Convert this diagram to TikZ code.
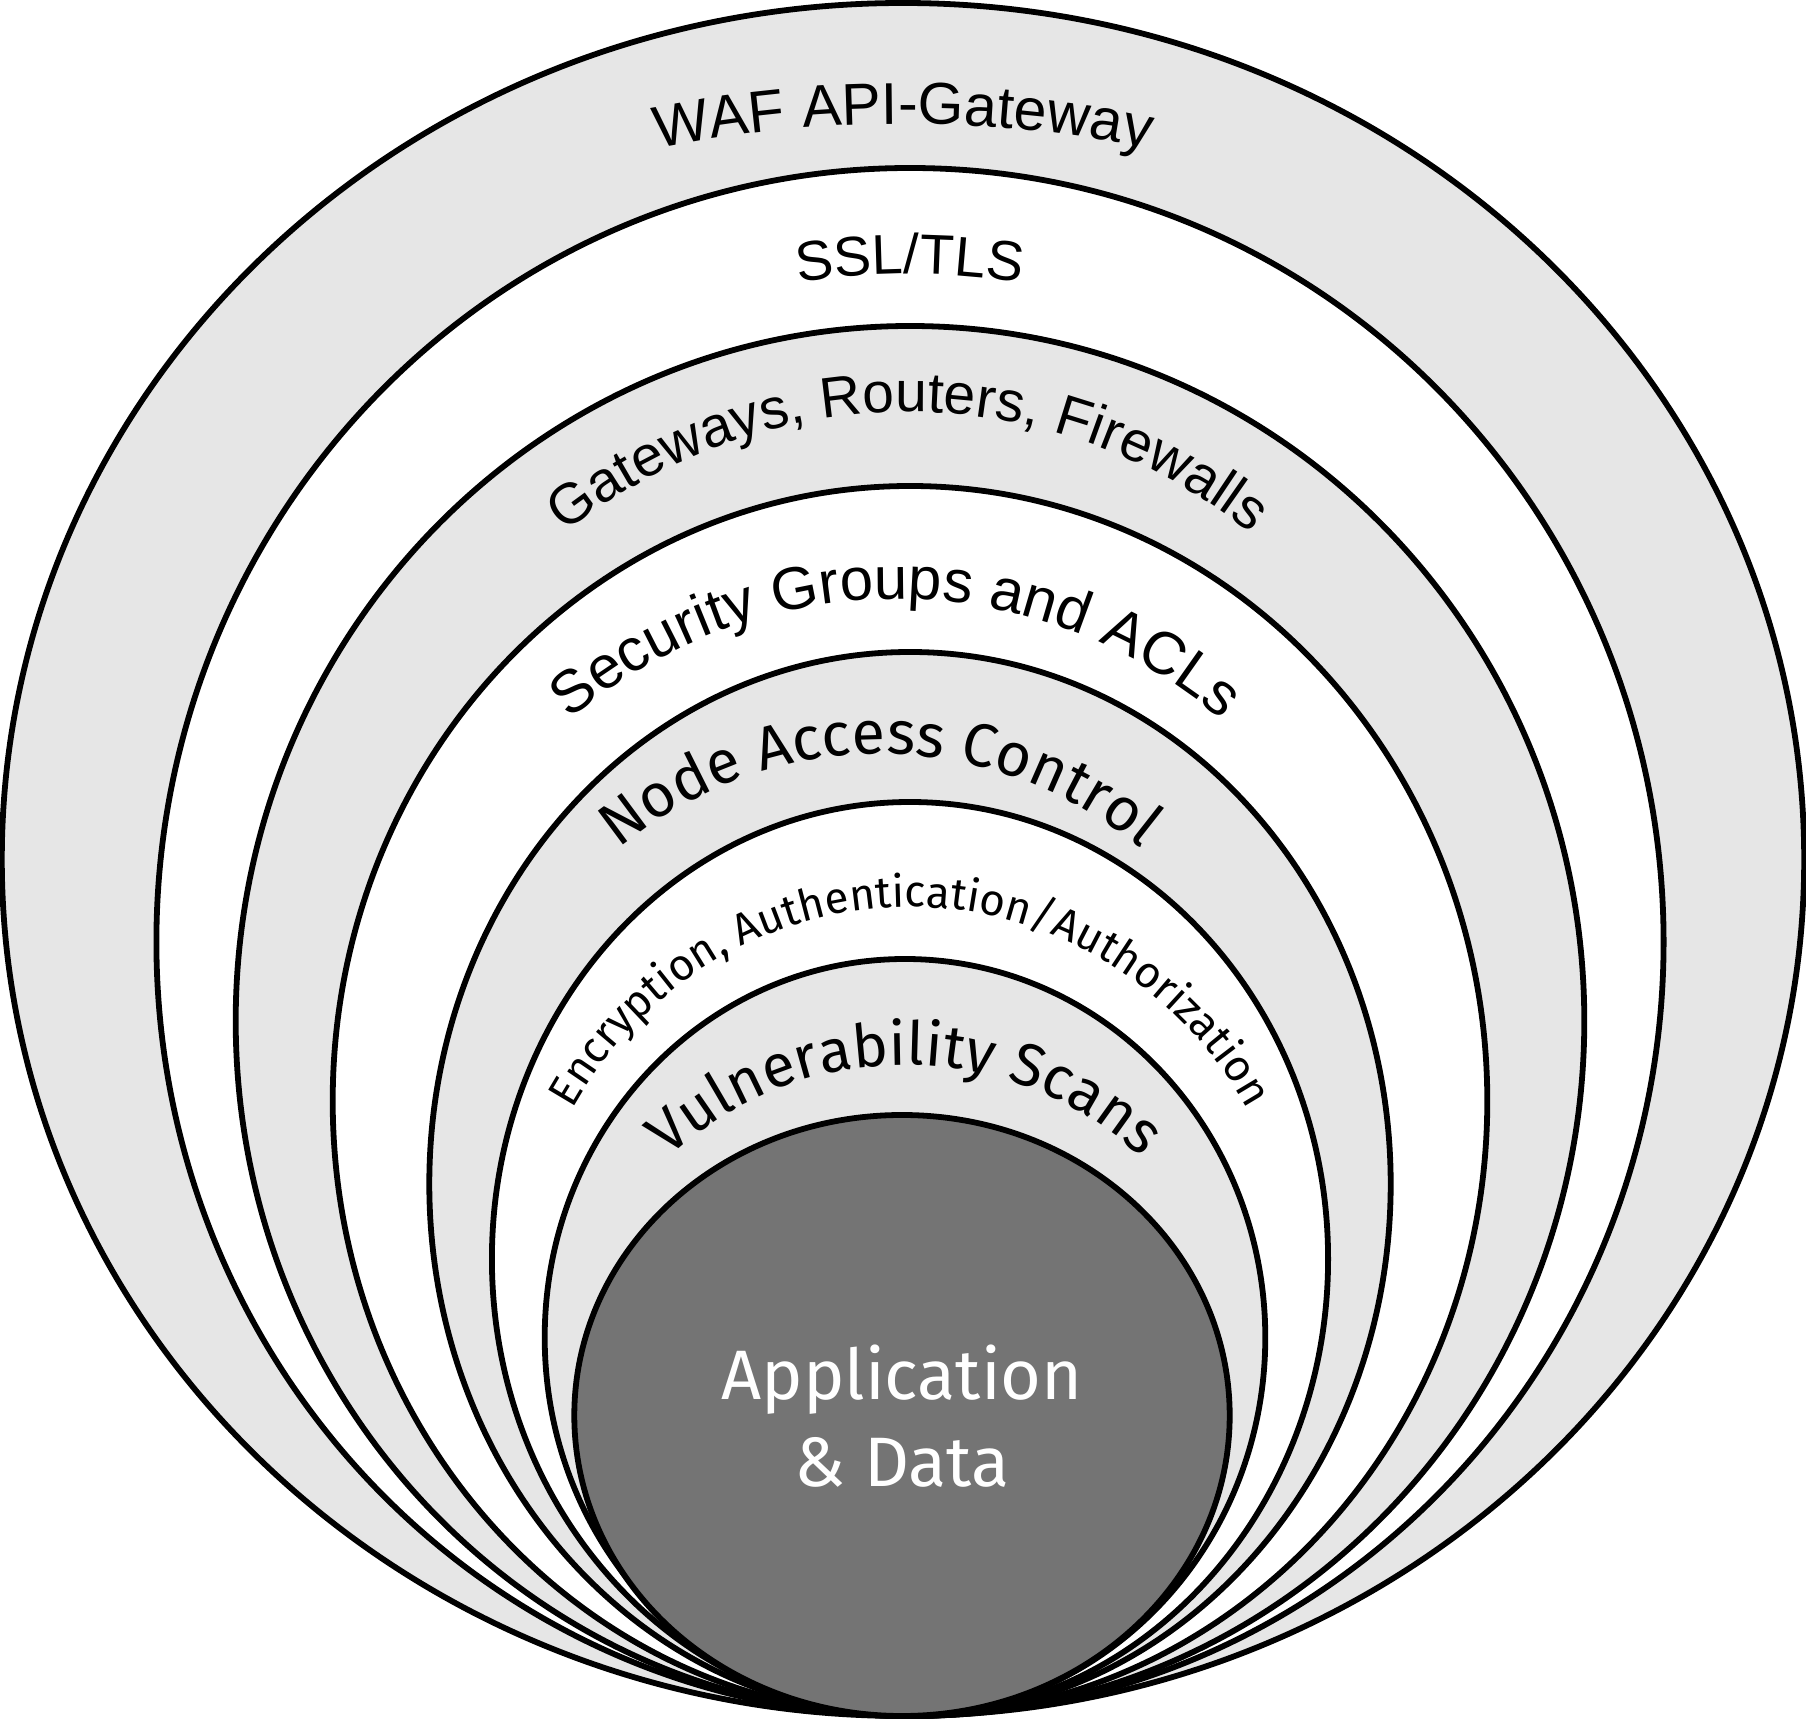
\documentclass[tikz,border=0pt]{standalone}
\usepackage{fontspec}
\usetikzlibrary{decorations.text}
\newfontfamily\fa{Liberation Sans}
\newfontfamily\fb{Fira Sans}
\definecolor{ringgray}{HTML}{E6E6E6}
\definecolor{coregray}{HTML}{747474}
\tikzset{
  ring/.style={draw=black, line width=2.9pt, fill=#1},
  arclabel/.style={decorate, decoration={text along path, text={#1}, text align=center}}
}
\begin{document}
\begin{tikzpicture}[x=0.5pt,y=0.5pt]
\useasboundingbox (0,0) rectangle (1806,1721);
% nested ellipses, all touching at the bottom
\path[ring=ringgray] (903,861.5) ellipse[x radius=901.2, y radius=856.5];
\path[ring=white]    (910,779)   ellipse[x radius=753.6, y radius=774];
\path[ring=ringgray] (910,700)   ellipse[x radius=674.3, y radius=695];
\path[ring=white]    (910,620)   ellipse[x radius=577.3, y radius=615];
\path[ring=ringgray] (910,537)   ellipse[x radius=480.7, y radius=532];
\path[ring=white]    (910,462)   ellipse[x radius=418.1, y radius=457];
\path[ring=ringgray] (905,383.5) ellipse[x radius=360.3, y radius=378.5];
\path[ring=coregray] (902,305.5) ellipse[x radius=327.7, y radius=300.5];
% curved labels
\path[arclabel={|\fa\fontsize{29.5}{36}\selectfont|WAF API-Gateway}]
  (903-990,801) arc[start angle=180, end angle=0, x radius=990, y radius=796];
\path[arclabel={|\fa\fontsize{28}{34}\selectfont|SSL/TLS}]
  (910-697.4,726) arc[start angle=180, end angle=0, x radius=697.4, y radius=721];
\path[arclabel={|\fa\fontsize{28.5}{34}\selectfont|Gateways, Routers, Firewalls}]
  (908-590,657) arc[start angle=180, end angle=0, x radius=590, y radius=652];
\path[arclabel={|\fa\fontsize{30}{36}\selectfont|Security Groups and ACLs}]
  (896-525,563.5) arc[start angle=180, end angle=0, x radius=525, y radius=558.5];
\path[arclabel={|\fb\fontsize{30.5}{36}\selectfont|Node Access Control}]
  (880-438,486) arc[start angle=180, end angle=0, x radius=438, y radius=481];
\path[arclabel={|\fb\fontsize{22}{26}\selectfont|Encryption, Authentication/Authorization}]
  (910-390,409.5) arc[start angle=180, end angle=0, x radius=390, y radius=404.5];
\path[arclabel={|\fb\fontsize{30}{36}\selectfont|Vulnerability Scans}]
  (905-338,330.5) arc[start angle=180, end angle=0, x radius=338, y radius=325.5];
% core
\node[text=white, align=center, font=\fb\fontsize{35}{43.5}\selectfont] (core) at (902,304.5) {Application\\\& Data};
\end{tikzpicture}
\end{document}
